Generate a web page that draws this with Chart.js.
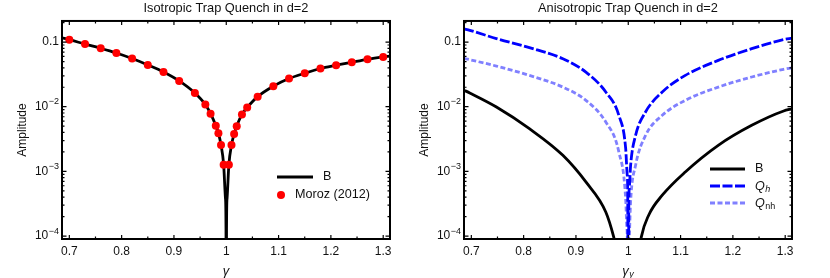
<!DOCTYPE html>
<html>
<head>
<meta charset="utf-8">
<script src="https://cdn.jsdelivr.net/npm/chart.js@4.4.1/dist/chart.umd.min.js"></script>
<style>
  html, body { margin: 0; padding: 0; background: #fff; }
  #wrap { display: flex; width: 830px; height: 278px; }
  canvas { display: block; }
</style>
</head>
<body>
<div id="wrap">
  <canvas id="iso" width="415" height="278"></canvas>
  <canvas id="aniso" width="415" height="278"></canvas>
</div>
<script>
// ---- data ----
const TITLES = ["Isotropic Trap Quench in d=2", "Anisotropic Trap Quench in d=2"];
const Y_TITLE = "Amplitude";
const X_TITLES = ["γ", "γ_y"];

const X_TICKS = [0.7, 0.8, 0.9, 1.0, 1.1, 1.2, 1.3];
const X_TICK_LABELS = ["0.7", "0.8", "0.9", "1", "1.1", "1.2", "1.3"];
const X_MINOR = [0.75, 0.85, 0.95, 1.05, 1.15, 1.25];
const Y_TICKS = [1e-4, 1e-3, 1e-2, 1e-1];
const Y_TICK_LABELS = ["10^−4", "10^−3", "10^−2", "0.1"];

// left panel
const ISO_LABELS = ["B", "Moroz (2012)"];
const MOROZ_X = [0.70, 0.73, 0.76, 0.79, 0.82, 0.85, 0.88, 0.91, 0.94, 0.96, 0.97, 0.98, 0.985, 0.99, 0.995,
                 1.005, 1.01, 1.015, 1.02, 1.03, 1.04, 1.06, 1.09, 1.12, 1.15, 1.18, 1.21, 1.24, 1.27, 1.30];
const MOROZ_Y = [0.109, 0.093, 0.080, 0.0677, 0.0556, 0.0443, 0.0345, 0.0251, 0.0163, 0.0108, 0.0078, 0.0051, 0.0039, 0.00255, 0.00127,
                 0.00127, 0.00255, 0.0038, 0.0050, 0.0076, 0.0097, 0.0143, 0.0208, 0.0273, 0.033, 0.039, 0.0438, 0.0488, 0.0542, 0.0588];
const ISO_B_X = [0.686, 0.70, 0.73, 0.76, 0.79, 0.82, 0.85, 0.88, 0.91, 0.94, 0.96, 0.97, 0.98, 0.985, 0.99, 0.995, 0.9985, 0.9995, 1.0,
                 1.0005, 1.0015, 1.005, 1.01, 1.015, 1.02, 1.03, 1.04, 1.06, 1.09, 1.12, 1.15, 1.18, 1.21, 1.24, 1.27, 1.30, 1.313];
const ISO_B_Y = [0.116, 0.109, 0.093, 0.080, 0.0677, 0.0556, 0.0443, 0.0345, 0.0251, 0.0163, 0.0108, 0.0078, 0.0051, 0.0039, 0.00255, 0.00127, 0.00038, 0.000127, 1e-8,
                 0.000127, 0.00038, 0.00127, 0.00255, 0.0038, 0.0050, 0.0076, 0.0097, 0.0143, 0.0208, 0.0273, 0.033, 0.039, 0.0438, 0.0488, 0.0542, 0.0588, 0.0605];

// right panel
const ANI_LABELS = ["B", "Q_h", "Q_nh"];
const ANI_B_X = [0.686, 0.697, 0.748, 0.811, 0.875, 0.919, 0.957, 0.972, 0.98, 1.0, 1.02, 1.025, 1.039, 1.065, 1.109, 1.172, 1.236, 1.297, 1.313];
const ANI_B_Y = [0.018, 0.0163, 0.0099, 0.00458, 0.00177, 0.000686, 0.000236, 0.000098, 0.00005, null, 0.00005, 0.000097, 0.00021, 0.000428, 0.00098, 0.00253, 0.00516, 0.0086, 0.0093];
const QH_X = [0.686, 0.697, 0.748, 0.811, 0.875, 0.919, 0.957, 0.982, 0.995, 0.998, 0.999, 1.0, 1.001, 1.002, 1.0045, 1.014, 1.033, 1.065, 1.109, 1.172, 1.236, 1.297, 1.313];
const QH_Y = [0.16, 0.152, 0.113, 0.082, 0.0553, 0.0343, 0.0169, 0.00736, 0.00228, 0.00088, 0.00043, 1e-8, 0.00028, 0.00055, 0.00124, 0.0036, 0.0083, 0.0169, 0.0305, 0.052, 0.079, 0.109, 0.115];
const QNH_X = [0.686, 0.697, 0.748, 0.811, 0.875, 0.919, 0.957, 0.982, 0.995, 0.997, 0.9985, 1.0, 1.0015, 1.0025, 1.0045, 1.014, 1.033, 1.065, 1.109, 1.172, 1.236, 1.297, 1.313];
const QNH_Y = [0.056, 0.0534, 0.0425, 0.0305, 0.0201, 0.01256, 0.0058, 0.002, 0.00038, 0.00015, 0.00005, 1e-8, 0.00005, 0.00012, 0.00034, 0.00124, 0.0036, 0.00736, 0.01256, 0.0201, 0.0288, 0.0379, 0.040];

const X_MIN = 0.686, X_MAX = 1.313;
const Y_MIN = 9e-5, Y_MAX = 0.212;

const FONT = '"Liberation Sans", Arial, sans-serif';
Chart.defaults.font.family = FONT;
Chart.defaults.font.size = 12;
Chart.defaults.color = '#111';

function pts(xs, ys) {
  return xs.map((x, i) => ({ x: x, y: ys[i] }));
}

// text with optional subscript, "Q_h" -> Q + small h
function drawRich(ctx, str, x, y, size, italic, align) {
  const parts = str.split('_');
  const main = parts[0], sub = parts[1];
  ctx.font = (italic ? 'italic ' : '') + size + 'px ' + FONT;
  const wm = ctx.measureText(main).width;
  let ws = 0;
  const subFont = (sub === 'nh' ? '' : 'italic ') + Math.round(size * 0.72) + 'px ' + FONT;
  if (sub) { ctx.font = subFont; ws = ctx.measureText(sub).width + 0.5; }
  let x0 = align === 'center' ? x - (wm + ws) / 2 : x;
  ctx.textAlign = 'left';
  ctx.textBaseline = 'middle';
  ctx.font = (italic ? 'italic ' : '') + size + 'px ' + FONT;
  ctx.fillText(main, x0, y);
  if (sub) {
    ctx.font = subFont;
    ctx.fillText(sub, x0 + wm + 0.5, y + size * 0.3);
  }
}

// "10^−2" -> 10 with raised exponent, right aligned at x
function drawPow(ctx, str, x, y) {
  const parts = str.split('^');
  ctx.textBaseline = 'middle';
  ctx.textAlign = 'right';
  if (parts.length === 1) {
    ctx.font = '12px ' + FONT;
    ctx.fillText(str, x, y);
    return;
  }
  ctx.font = '9px ' + FONT;
  const we = ctx.measureText(parts[1]).width;
  ctx.fillText(parts[1], x, y - 5);
  ctx.font = '12px ' + FONT;
  ctx.fillText(parts[0], x - we - 0.5, y);
}

// frame with inward ticks, y tick labels, x title and legend inside the plot
const decoPlugin = {
  id: 'deco',
  afterDatasetsDraw(chart, args, opts) {
    const { ctx, chartArea: a, scales: { x, y } } = chart;
    ctx.save();
    ctx.strokeStyle = '#000';
    ctx.lineWidth = 1.2;
    ctx.beginPath();
    const xt = X_TICKS.map(v => [v, 4]).concat(X_MINOR.map(v => [v, 2.5]));
    xt.forEach(([v, len]) => {
      const px = x.getPixelForValue(v);
      ctx.moveTo(px, a.bottom); ctx.lineTo(px, a.bottom - len);
      ctx.moveTo(px, a.top); ctx.lineTo(px, a.top + len);
    });
    for (let d = -5; d <= 0; d++) {
      for (let m = 1; m <= 9; m++) {
        const v = m * Math.pow(10, d);
        if (v < Y_MIN || v > Y_MAX) continue;
        const len = m === 1 ? 4.5 : 2.5;
        const py = y.getPixelForValue(v);
        ctx.moveTo(a.left, py); ctx.lineTo(a.left + len, py);
        ctx.moveTo(a.right, py); ctx.lineTo(a.right - len, py);
      }
    }
    ctx.stroke();
    ctx.lineWidth = 2;
    ctx.strokeRect(a.left, a.top, a.right - a.left, a.bottom - a.top);

    ctx.fillStyle = '#111';
    Y_TICKS.forEach((v, i) => drawPow(ctx, Y_TICK_LABELS[i], a.left - 3, y.getPixelForValue(v)));

    drawRich(ctx, opts.xTitle, (a.left + a.right) / 2, 271, 13, true, 'center');

    opts.legend.forEach(item => {
      ctx.save();
      if (item.type === 'dot') {
        ctx.fillStyle = item.color;
        ctx.beginPath();
        ctx.arc(item.x1 + 4, item.y, 4, 0, Math.PI * 2);
        ctx.fill();
      } else {
        ctx.strokeStyle = item.color;
        ctx.lineWidth = item.width;
        ctx.setLineDash(item.dash);
        ctx.beginPath();
        ctx.moveTo(item.x1, item.y); ctx.lineTo(item.x2, item.y);
        ctx.stroke();
      }
      ctx.restore();
      ctx.fillStyle = '#111';
      drawRich(ctx, item.text, item.tx, item.y, 12.6, item.text.indexOf('_') >= 0, 'left');
    });
    ctx.restore();
  }
};

function makeChart(id, datasets, title, xTitle, yWidth, yTitlePad, padRight, legend) {
  return new Chart(document.getElementById(id), {
    type: 'line',
    data: { datasets: datasets },
    options: {
      responsive: false,
      animation: false,
      devicePixelRatio: 1,
      layout: { padding: { left: 0, right: padRight, top: 0, bottom: 0 } },
      elements: { point: { radius: 0 } },
      plugins: {
        legend: { display: false },
        tooltip: { enabled: false },
        title: {
          display: true,
          text: title,
          fullSize: false,
          color: '#111',
          font: { size: 12.8, weight: 'normal' },
          padding: { top: 1, bottom: 4.6 }
        },
        deco: { xTitle: xTitle, legend: legend }
      },
      scales: {
        x: {
          type: 'linear',
          min: X_MIN,
          max: X_MAX,
          grid: { display: false, drawTicks: false },
          border: { display: false },
          afterBuildTicks: s => { s.ticks = X_TICKS.map(v => ({ value: v })); },
          afterFit: s => { s.height = 39; },
          ticks: {
            autoSkip: false,
            maxRotation: 0,
            padding: 5,
            color: '#111',
            callback: (v, i) => X_TICK_LABELS[i]
          }
        },
        y: {
          type: 'logarithmic',
          min: Y_MIN,
          max: Y_MAX,
          grid: { display: false, drawTicks: false },
          border: { display: false },
          afterBuildTicks: s => { s.ticks = Y_TICKS.map(v => ({ value: v })); },
          afterFit: s => { s.width = yWidth; },
          ticks: {
            display: false
          },
          title: {
            display: true,
            text: Y_TITLE,
            color: '#111',
            font: { size: 12 },
            padding: { top: yTitlePad, bottom: 0 }
          }
        }
      }
    },
    plugins: [decoPlugin]
  });
}

// left: isotropic
makeChart('iso', [
  {
    label: ISO_LABELS[1],
    data: pts(MOROZ_X, MOROZ_Y),
    showLine: false,
    pointRadius: 4,
    pointBackgroundColor: '#ff0000',
    pointBorderWidth: 0,
    order: 0
  },
  {
    label: ISO_LABELS[0],
    data: pts(ISO_B_X, ISO_B_Y),
    borderColor: '#000',
    borderWidth: 2.8,
    cubicInterpolationMode: 'monotone',
    pointRadius: 0,
    order: 1
  }
], TITLES[0], X_TITLES[0], 62, 15, 25, [
  { type: 'line', color: '#000', width: 2.8, dash: [], x1: 277, x2: 313, y: 177, tx: 323, text: ISO_LABELS[0] },
  { type: 'dot', color: '#ff0000', x1: 277, y: 195, tx: 295, text: ISO_LABELS[1] }
]);

// right: anisotropic
makeChart('aniso', [
  {
    label: ANI_LABELS[0],
    data: pts(ANI_B_X, ANI_B_Y),
    borderColor: '#000',
    borderWidth: 2.8,
    cubicInterpolationMode: 'monotone',
    spanGaps: false
  },
  {
    label: ANI_LABELS[1],
    data: pts(QH_X, QH_Y),
    borderColor: '#0000ff',
    borderWidth: 2.8,
    borderDash: [10, 2.5],
    cubicInterpolationMode: 'monotone'
  },
  {
    label: ANI_LABELS[2],
    data: pts(QNH_X, QNH_Y),
    borderColor: '#8080ff',
    borderWidth: 2.8,
    borderDash: [5, 2.5],
    cubicInterpolationMode: 'monotone'
  }
], TITLES[1], X_TITLES[1], 49, 2.5, 38, [
  { type: 'line', color: '#000', width: 2.8, dash: [], x1: 295, x2: 330, y: 169, tx: 340, text: ANI_LABELS[0] },
  { type: 'line', color: '#0000ff', width: 2.8, dash: [10, 2.5], x1: 295, x2: 330, y: 186, tx: 340, text: ANI_LABELS[1] },
  { type: 'line', color: '#8080ff', width: 2.8, dash: [5, 2.5], x1: 295, x2: 330, y: 203, tx: 340, text: ANI_LABELS[2] }
]);
</script>
</body>
</html>
